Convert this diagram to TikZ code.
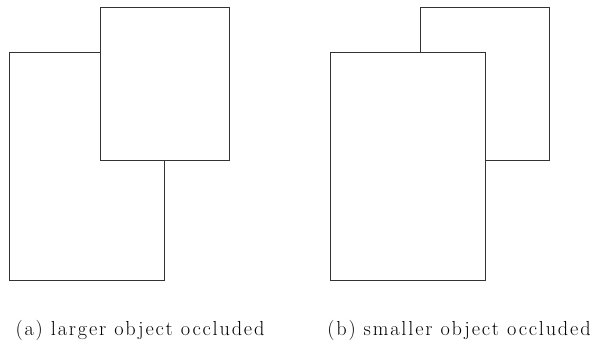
\documentclass[tikz,border=0pt]{standalone}
\usepackage{fontspec}
\setmainfont{Latin Modern Roman}[LetterSpace=9]
\begin{document}
\begin{tikzpicture}[x=1pt,y=-1pt,
  box/.style={draw=black!80,line width=1pt,fill=white},
  captext/.style={anchor=base,font=\fontsize{20.3}{24}\selectfont,inner sep=0pt}]
\useasboundingbox (0,0) rectangle (594,347);
% (a) larger object occluded
\draw[box] (9,52.5) rectangle (164.5,280.5);
\draw[box] (100,8) rectangle (229.5,160.5);
\node[captext] (capa) at (140,335.5) {(a) larger object occluded};
% (b) smaller object occluded
\draw[box] (420,8) rectangle (549,160.5);
\draw[box] (330,52.5) rectangle (485,280.5);
\node[captext] (capb) at (459,335.5) {(b) smaller object occluded};
\end{tikzpicture}
\end{document}
